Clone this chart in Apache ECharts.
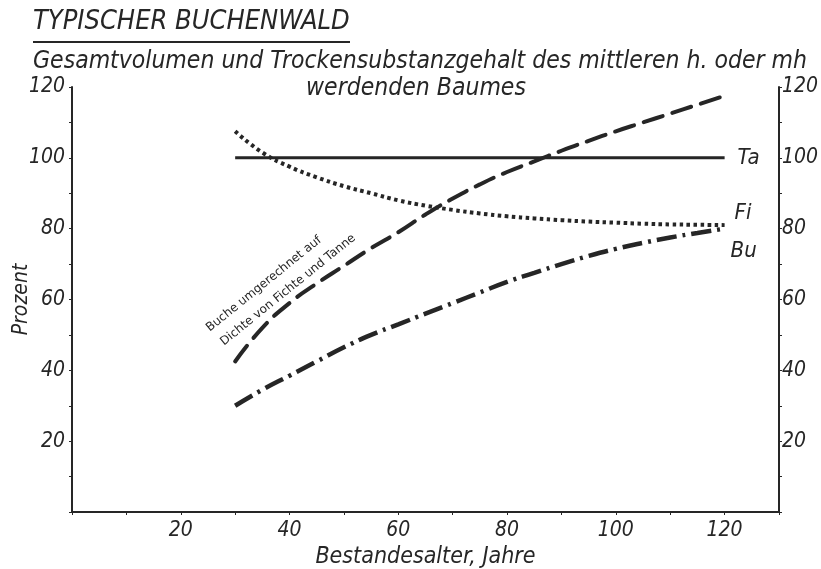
<!DOCTYPE html>
<html><head><meta charset="utf-8">
<script src="https://cdn.jsdelivr.net/npm/echarts@6/dist/echarts.min.js"></script>
<style>html,body{margin:0;padding:0;background:#fff}#c{width:821px;height:569px}</style>
</head><body><div id="c"></div>
<script>
var ages = [30,35,40,45,50,55,60,65,70,75,80,85,90,95,100,105,110,115,120];
var tanne = [100,100,100,100,100,100,100,100,100,100,100,100,100,100,100,100,100,100,100];
var fichte = [107.5,101.5,97.5,94.5,92,90,88,86.5,85.3,84.3,83.5,82.9,82.4,82,81.7,81.4,81.2,81.1,81];
var bucheUmgerechnet = [42.5,52,59,64.5,69.5,74.5,79,84,88.5,92.5,96,99,102,104.8,107.5,110,112.5,115,117.5];
var buche = [30,34.5,38.5,42.5,46.5,50,53,56,59,62,65,67.5,70,72.3,74.3,76,77.5,78.8,80];
var xTickLabels = [20,40,60,80,100,120];
var yTickLabels = [20,40,60,80,100,120];
var titleText = 'TYPISCHER BUCHENWALD';
var subtitle1 = 'Gesamtvolumen und Trockensubstanzgehalt des mittleren h. oder mh';
var subtitle2 = 'werdenden Baumes';
var annot1 = 'Buche umgerechnet auf';
var annot2 = 'Dichte von Fichte und Tanne';

function pairs(v){ return ages.map(function(a,i){return [a,v[i]];}); }
var ink = '#262626';
var FONT = '"Liberation Sans Narrow", "DejaVu Sans Condensed", "DejaVu Sans"';
var chart = echarts.init(document.getElementById('c'));
var yAx = function(pos){
  return {type:'value', position:pos, min:0, max:120, interval:10,
    axisLine:{show:true, lineStyle:{color:ink, width:2}},
    axisTick:{show:true, length:3, lineStyle:{color:ink}},
    splitLine:{show:false},
    axisLabel:{color:ink, fontFamily:FONT, fontStyle:'italic', fontSize:21, margin:pos==='left'?7:3,
      formatter:function(v){return yTickLabels.indexOf(v)>=0?String(v):'';}}
  };
};
chart.setOption({
  animation:false,
  backgroundColor:'#fff',
  grid:{left:72, right:42, top:87, bottom:57, containLabel:false, outerBoundsMode:'none'},
  xAxis:{type:'value', min:0, max:130, interval:10,
    name:'Bestandesalter, Jahre', nameLocation:'middle', nameGap:32,
    nameTextStyle:{color:ink, fontFamily:FONT, fontStyle:'italic', fontSize:23},
    axisLine:{lineStyle:{color:ink, width:2}},
    axisTick:{show:true, length:3, lineStyle:{color:ink}},
    splitLine:{show:false},
    axisLabel:{color:ink, fontFamily:FONT, fontStyle:'italic', fontSize:21, margin:8,
      formatter:function(v){return xTickLabels.indexOf(v)>=0?String(v):'';}}
  },
  yAxis:[Object.assign(yAx('left'),{name:'Prozent', nameLocation:'middle', nameGap:40, nameRotate:90, nameMoveOverlap:false,
      nameTextStyle:{color:ink, fontFamily:FONT, fontStyle:'italic', fontSize:21}}), yAx('right')],
  graphic:[
    {type:'text', left:33, top:8, style:{text:titleText, fill:ink, font:'italic 27px ' + FONT}},
    {type:'line', shape:{x1:33,y1:42,x2:350,y2:42}, style:{stroke:ink, lineWidth:2}},
    {type:'text', left:33, top:49, style:{text:subtitle1, fill:ink, font:'italic 24.5px ' + FONT}},
    {type:'text', x:416, y:89, style:{text:subtitle2, fill:ink, font:'italic 24.5px ' + FONT, align:'center', verticalAlign:'middle'}},
    {type:'text', x:264, y:284, rotation:0.68, style:{text:annot1, fill:ink, font:'12px "DejaVu Sans"', align:'center', verticalAlign:'middle'}},
    {type:'text', x:288, y:290, rotation:0.68, style:{text:annot2, fill:ink, font:'12px "DejaVu Sans"', align:'center', verticalAlign:'middle'}}
  ],
  series:[
    {type:'line', name:'Ta', data:pairs(tanne), showSymbol:false, lineStyle:{color:ink, width:3},
      endLabel:{show:true, formatter:'Ta', color:ink, fontFamily:FONT, fontStyle:'italic', fontSize:22, distance:13}},
    {type:'line', name:'Fi', data:pairs(fichte), smooth:true, showSymbol:false, lineStyle:{color:ink, width:4, type:[3.5,3.5], cap:'butt'},
      endLabel:{show:true, formatter:'Fi', color:ink, fontFamily:FONT, fontStyle:'italic', fontSize:22, distance:10, offset:[0,-12]}},
    {type:'line', name:'Bu umgerechnet', data:pairs(bucheUmgerechnet), smooth:true, showSymbol:false, lineStyle:{color:ink, width:4, type:[20,10], cap:'round'}},
    {type:'line', name:'Bu', data:pairs(buche), smooth:true, showSymbol:false, lineStyle:{color:ink, width:4.5, type:[20,6,3,6], cap:'butt'},
      endLabel:{show:true, formatter:'Bu', color:ink, fontFamily:FONT, fontStyle:'italic', fontSize:22, distance:6, offset:[0,23]}}
  ]
});
</script></body></html>
